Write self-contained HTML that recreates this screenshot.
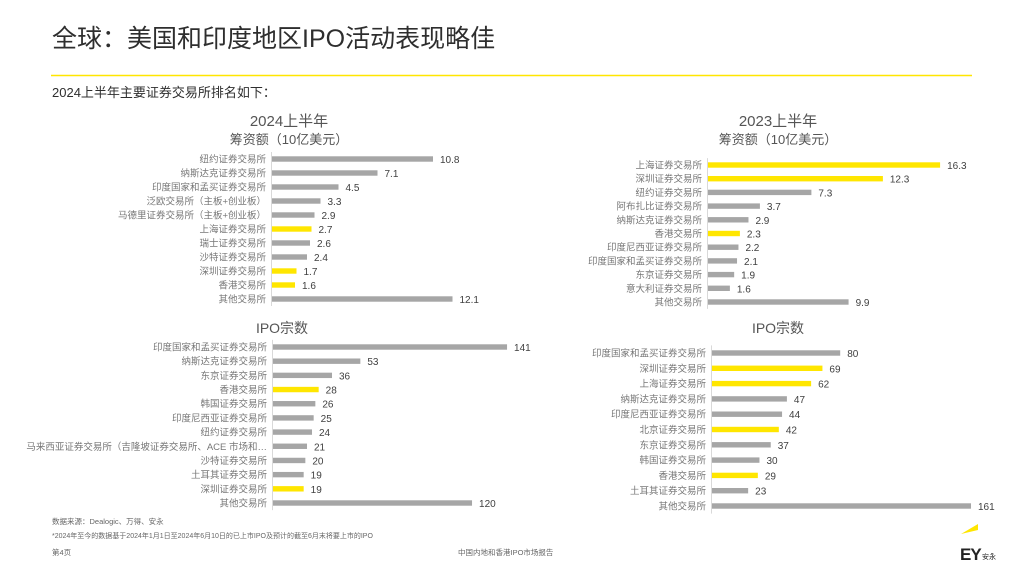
<!DOCTYPE html>
<html><head><meta charset="utf-8">
<style>
body{margin:0;width:1024px;height:576px;background:#fff;overflow:hidden;font-family:"Liberation Sans","Noto Sans CJK SC",sans-serif;}
svg{position:absolute;left:0;top:0}
text{font-family:"Liberation Sans","Noto Sans CJK SC",sans-serif}
</style></head>
<body>
<svg id="s" width="1024" height="576">
<text x="52" y="47" font-size="25" fill="#2e2e2e">全球：美国和印度地区IPO活动表现略佳</text>
<line x1="51" y1="75.5" x2="972" y2="75.5" stroke="#ffe600" stroke-width="1.5"/>
<text x="52" y="97" font-size="13" fill="#2e2e2e">2024上半年主要证券交易所排名如下：</text>
<text x="289" y="126" font-size="15" fill="#555" text-anchor="middle">2024上半年</text>
<text x="289" y="144" font-size="13" fill="#555" text-anchor="middle">筹资额（10亿美元）</text>
<text x="778" y="126" font-size="15" fill="#555" text-anchor="middle">2023上半年</text>
<text x="778" y="144" font-size="13" fill="#555" text-anchor="middle">筹资额（10亿美元）</text>
<text x="282" y="333" font-size="14" fill="#555" text-anchor="middle">IPO宗数</text>
<text x="778" y="333" font-size="14" fill="#555" text-anchor="middle">IPO宗数</text>
<text x="52" y="524" font-size="7.5" fill="#666">数据来源：Dealogic、万得、安永</text>
<text x="52" y="538" font-size="7" fill="#666">*2024年至今的数据基于2024年1月1日至2024年6月10日的已上市IPO及预计的截至6月末将要上市的IPO</text>
<text x="52" y="555" font-size="7.5" fill="#666">第4页</text>
<text x="458" y="555" font-size="7.5" fill="#666">中国内地和香港IPO市场报告</text>
<g>
<polygon points="961,534 978,524 978,530" fill="#ffe600"/>
<text x="960" y="560" font-size="17" font-weight="bold" fill="#222" letter-spacing="-1">EY</text>
<text x="982" y="559" font-size="7" fill="#222">安永</text>
</g>
</svg>
<script>
const c1Labels=["纽约证券交易所","纳斯达克证券交易所","印度国家和孟买证券交易所","泛欧交易所（主板+创业板）","马德里证券交易所（主板+创业板）","上海证券交易所","瑞士证券交易所","沙特证券交易所","深圳证券交易所","香港交易所","其他交易所"];
const c1Values=[10.8,7.1,4.5,3.3,2.9,2.7,2.6,2.4,1.7,1.6,12.1];
const c1Hi=[0,0,0,0,0,1,0,0,1,1,0];
const c2Labels=["上海证券交易所","深圳证券交易所","纽约证券交易所","阿布扎比证券交易所","纳斯达克证券交易所","香港交易所","印度尼西亚证券交易所","印度国家和孟买证券交易所","东京证券交易所","意大利证券交易所","其他交易所"];
const c2Values=[16.3,12.3,7.3,3.7,2.9,2.3,2.2,2.1,1.9,1.6,9.9];
const c2Hi=[1,1,0,0,0,1,0,0,0,0,0];
const c3Labels=["印度国家和孟买证券交易所","纳斯达克证券交易所","东京证券交易所","香港交易所","韩国证券交易所","印度尼西亚证券交易所","纽约证券交易所","马来西亚证券交易所（吉隆坡证券交易所、ACE 市场和…","沙特证券交易所","土耳其证券交易所","深圳证券交易所","其他交易所"];
const c3Values=[141,53,36,28,26,25,24,21,20,19,19,120];
const c3Hi=[0,0,0,1,0,0,0,0,0,0,1,0];
const c4Labels=["印度国家和孟买证券交易所","深圳证券交易所","上海证券交易所","纳斯达克证券交易所","印度尼西亚证券交易所","北京证券交易所","东京证券交易所","韩国证券交易所","香港交易所","土耳其证券交易所","其他交易所"];
const c4Values=[80,69,62,47,44,42,37,30,29,23,161];
const c4Hi=[0,1,1,0,0,1,0,0,1,0,0];
const NS="http://www.w3.org/2000/svg";
const svg=document.getElementById('s');
function mk(t,a){const e=document.createElementNS(NS,t);for(const k in a)e.setAttribute(k,a[k]);return e;}
function chart(name,labels,values,hi,ax,y0,y1,scale,dec){
  const g=mk('g',{});
  
  
  svg.appendChild(g);
  const n=labels.length, step=(y1-y0)/(n-1);
  const xs=v=>ax+v*scale;
  const ys=i=>y0+i*step;
  const axis=mk('line',{x1:ax+0.5,x2:ax+0.5,y1:y0-step/2,y2:y1+step/2,stroke:'#d9d9d9','stroke-width':1});
  
  
  g.appendChild(axis);
  for(let i=0;i<n;i++){
    const y=ys(i);
    const lab=mk('text',{x:ax-5,y:y+3.5,'font-size':9.5,fill:'#777','text-anchor':'end'});
    lab.textContent=labels[i];
    
    
    g.appendChild(lab);
    const r=mk('rect',{x:ax+1,y:y-2.7,width:Math.max(0,xs(values[i])-ax-1),height:5.4,fill:hi[i]?'#ffe600':'#a6a6a6'});
    
    
    g.appendChild(r);
    const v=mk('text',{x:xs(values[i])+7,y:y+4,'font-size':10,fill:'#404040'});
    v.textContent=dec?values[i].toFixed(1):String(values[i]);
    
    
    g.appendChild(v);
  }
}
chart('chart-2024-proceeds',c1Labels,c1Values,c1Hi,271,159,299,15,true);
chart('chart-2023-proceeds',c2Labels,c2Values,c2Hi,707,165,302,14.3,true);
chart('chart-2024-ipo-count',c3Labels,c3Values,c3Hi,272,347,503,1.667,false);
chart('chart-2023-ipo-count',c4Labels,c4Values,c4Hi,711,353,506,1.615,false);
</script>
</body></html>
